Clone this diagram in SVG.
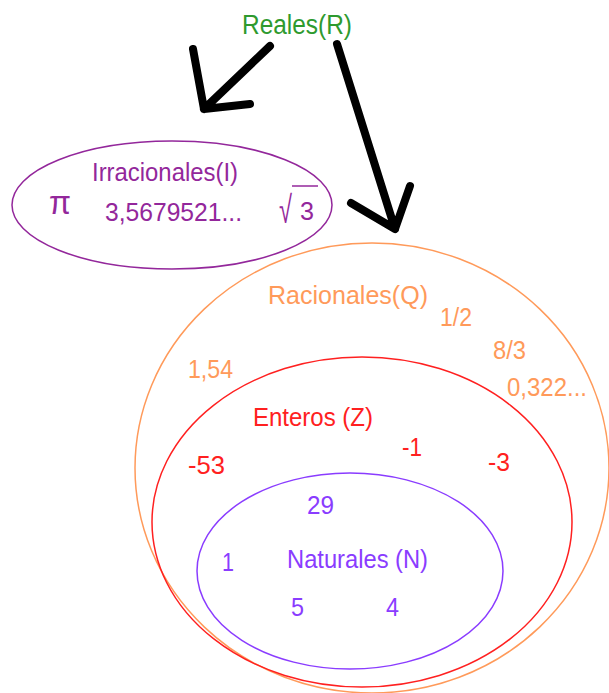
<svg xmlns="http://www.w3.org/2000/svg" width="609" height="693" viewBox="0 0 609 693">
<style>
text{font-family:"Liberation Sans",Arial,sans-serif;font-size:26px}
.g{fill:#2e9a2e}.p{fill:#93279b}.o{fill:#ff9a5a}.r{fill:#ff2020}.n{fill:#8a3cff}
.arr{stroke:#000;stroke-width:8;stroke-linecap:round;stroke-linejoin:round;fill:none}
</style>
<rect width="609" height="693" fill="#fff"/>
<g id="reales"><text class="g" x="242" y="34" style="font-size:27px" textLength="110" lengthAdjust="spacingAndGlyphs">Reales(R)</text></g>
<g id="connectors">
<path class="arr" d="M270 46 L204 109 M193 49 L204 109 L250 104"/>
<path class="arr" d="M337 44 L395 229 M351 203 L395 229 L410 186"/>
</g>
<g id="irracionales">
<ellipse cx="172" cy="205" rx="160" ry="64" fill="none" stroke="#93279b" stroke-width="1.5"/>
<text class="p" x="92" y="181" style="font-size:25px" textLength="146" lengthAdjust="spacingAndGlyphs">Irracionales(I)</text>
<text class="p" x="49" y="214" style="font-size:33px" textLength="22" lengthAdjust="spacingAndGlyphs">π</text>
<text class="p" x="105" y="221" textLength="137" lengthAdjust="spacingAndGlyphs">3,5679521...</text>
<text class="p" x="279" y="223" style="font-size:38px" textLength="13" lengthAdjust="spacingAndGlyphs">√</text>
<line x1="292" y1="186" x2="318" y2="186" stroke="#93279b" stroke-width="1.5"/>
<text class="p" x="300" y="220" textLength="14" lengthAdjust="spacingAndGlyphs">3</text>
</g>
<g id="racionales">
<ellipse cx="372" cy="468" rx="237" ry="225" fill="none" stroke="#ff9a5a" stroke-width="1.5"/>
<text class="o" x="268" y="304" textLength="160" lengthAdjust="spacingAndGlyphs">Racionales(Q)</text>
<text class="o" x="440" y="326" textLength="32" lengthAdjust="spacingAndGlyphs">1/2</text>
<text class="o" x="493" y="359" textLength="33" lengthAdjust="spacingAndGlyphs">8/3</text>
<text class="o" x="507" y="396" textLength="80" lengthAdjust="spacingAndGlyphs">0,322...</text>
<text class="o" x="188" y="378" textLength="45" lengthAdjust="spacingAndGlyphs">1,54</text>
</g>
<g id="enteros">
<ellipse cx="362" cy="522" rx="210" ry="165" fill="none" stroke="#ff2020" stroke-width="1.5"/>
<text class="r" x="253" y="426" textLength="120" lengthAdjust="spacingAndGlyphs">Enteros (Z)</text>
<text class="r" x="402" y="456" textLength="20" lengthAdjust="spacingAndGlyphs">-1</text>
<text class="r" x="488" y="471" textLength="22" lengthAdjust="spacingAndGlyphs">-3</text>
<text class="r" x="188" y="474" textLength="37" lengthAdjust="spacingAndGlyphs">-53</text>
</g>
<g id="naturales">
<ellipse cx="350" cy="571" rx="153" ry="98" fill="none" stroke="#8a3cff" stroke-width="1.5"/>
<text class="n" x="307" y="514" textLength="27" lengthAdjust="spacingAndGlyphs">29</text>
<text class="n" x="222" y="571" textLength="12" lengthAdjust="spacingAndGlyphs">1</text>
<text class="n" x="287" y="568" textLength="141" lengthAdjust="spacingAndGlyphs">Naturales (N)</text>
<text class="n" x="291" y="616" textLength="13" lengthAdjust="spacingAndGlyphs">5</text>
<text class="n" x="386" y="616" textLength="13" lengthAdjust="spacingAndGlyphs">4</text>
</g>
</svg>
